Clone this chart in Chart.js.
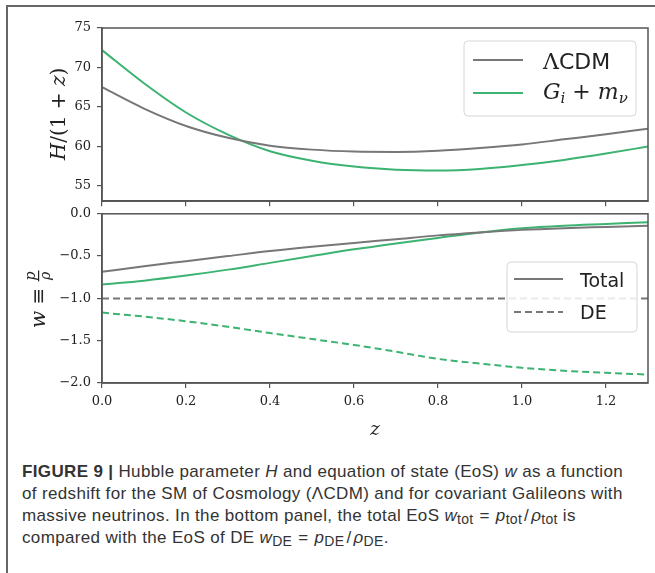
<!DOCTYPE html>
<html>
<head>
<meta charset="utf-8">
<script src="https://cdn.jsdelivr.net/npm/chart.js@4.4.0/dist/chart.umd.min.js"></script>
<style>
  body { margin: 0; background: #fff; width: 655px; height: 573px; position: relative; overflow: hidden; }
  #frame { position: absolute; left: 6px; top: 5px; width: 700px; height: 600px; border-top: 2px solid #666; border-left: 2px solid #666; }
  #top { position: absolute; left: 0; top: 0; }
  #bot { position: absolute; left: 0; top: 200px; }
  #cap { position: absolute; left: 22px; top: 461px; font: 17px 'Liberation Sans', Arial, sans-serif; letter-spacing: 0.35px; color: #333; line-height: 22px; white-space: nowrap; }
  #cap sub { font-size: 14px; letter-spacing: 0.3px; vertical-align: -3px; line-height: 0; }
  #cap .eq { padding: 0 6px; }
  #cap .sl { padding: 0 2px; }
</style>
</head>
<body>
<div id="frame"></div>
<canvas id="top" width="655" height="215"></canvas>
<canvas id="bot" width="655" height="250"></canvas>
<div id="cap">
  <div><b>FIGURE 9 |</b> Hubble parameter <i>H</i> and equation of state (EoS) <i>w</i> as a function</div>
  <div>of redshift for the SM of Cosmology (ΛCDM) and for covariant Galileons with</div>
  <div>massive neutrinos. In the bottom panel, the total EoS <i>w</i><sub>tot</sub><span class="eq">=</span><i>p</i><sub>tot</sub><span class="sl">/</span><i>ρ</i><sub>tot</sub> is</div>
  <div>compared with the EoS of DE <i>w</i><sub>DE</sub><span class="eq">=</span><i>p</i><sub>DE</sub><span class="sl">/</span><i>ρ</i><sub>DE</sub>.</div>
</div>
<script>
// redshift samples and values
const zVals = [0, 0.1, 0.2, 0.3, 0.4, 0.5, 0.6, 0.7, 0.8, 0.9, 1.0, 1.1, 1.2, 1.3];
const hLcdm = [67.5, 64.8, 62.6, 61.1, 60.1, 59.6, 59.35, 59.3, 59.45, 59.8, 60.25, 60.9, 61.55, 62.25];
const hGal  = [72.2, 68.0, 64.3, 61.5, 59.4, 58.2, 57.45, 57.05, 56.95, 57.15, 57.65, 58.3, 59.1, 60.0];
const wTotLcdm = [-0.686, -0.62, -0.56, -0.50, -0.44, -0.39, -0.345, -0.30, -0.255, -0.22, -0.19, -0.17, -0.155, -0.14];
const wTotGal  = [-0.836, -0.79, -0.73, -0.66, -0.58, -0.50, -0.42, -0.35, -0.285, -0.22, -0.17, -0.14, -0.12, -0.10];
const wDeLcdm  = [-1, -1, -1, -1, -1, -1, -1, -1, -1, -1, -1, -1, -1, -1];
const wDeGal   = [-1.168, -1.215, -1.27, -1.335, -1.41, -1.48, -1.55, -1.63, -1.715, -1.77, -1.82, -1.855, -1.88, -1.90];

const zTicks = [0, 0.2, 0.4, 0.6, 0.8, 1.0, 1.2];
const hTicks = [55, 60, 65, 70, 75];
const wTicks = [-2, -1.5, -1, -0.5, 0];

const GRAY = '#777777';
const GREEN = '#3cb371';
const AXIS = '#555555';
const SERIF = "'DejaVu Serif', serif";
const SANS = "'DejaVu Sans', sans-serif";

const pts = ys => zVals.map((z, i) => ({ x: z, y: ys[i] }));
const fmt = v => (v < 0 ? '\u2212' : '') + Math.abs(v).toFixed(1);

function line(label, ys, color, dashed) {
  return {
    label: label,
    data: pts(ys),
    borderColor: color,
    borderWidth: 2,
    borderDash: dashed ? [7, 4] : [],
    pointRadius: 0,
    cubicInterpolationMode: 'monotone',
    fill: false
  };
}

// draw a run of text pieces with different fonts, left to right
function runs(ctx, parts, x, y) {
  for (const p of parts) {
    ctx.font = p.f;
    ctx.fillText(p.t, x, y + (p.dy || 0));
    x += ctx.measureText(p.t).width;
  }
  return x;
}
function runsWidth(ctx, parts) {
  let w = 0;
  for (const p of parts) { ctx.font = p.f; w += ctx.measureText(p.t).width; }
  return w;
}

function legendBox(ctx, x, y, w, h) {
  ctx.save();
  ctx.beginPath();
  ctx.roundRect(x, y, w, h, 4);
  ctx.fillStyle = 'rgba(255,255,255,0.85)';
  ctx.fill();
  ctx.strokeStyle = '#d6d6d6';
  ctx.lineWidth = 1;
  ctx.stroke();
  ctx.restore();
}
function legendLine(ctx, x1, x2, y, color, dash) {
  ctx.save();
  ctx.strokeStyle = color;
  ctx.lineWidth = 2;
  ctx.setLineDash(dash || []);
  ctx.beginPath();
  ctx.moveTo(x1, y);
  ctx.lineTo(x2, y);
  ctx.stroke();
  ctx.restore();
}

const framePlugin = {
  id: 'frame',
  afterDatasetsDraw(chart) {
    const a = chart.chartArea, ctx = chart.ctx;
    ctx.save();
    ctx.strokeStyle = AXIS;
    ctx.lineWidth = 1.5;
    ctx.strokeRect(a.left, a.top, a.right - a.left, a.bottom - a.top);
    ctx.restore();
  }
};

function axisOpts(extra) {
  return Object.assign({
    type: 'linear',
    grid: { drawOnChartArea: false, tickLength: 5, color: AXIS, lineWidth: 1.2 },
    border: { display: true, color: AXIS, width: 1.5 },
    ticks: { font: { family: SERIF, size: 13 }, color: '#222', padding: 6 }
  }, extra);
}

// ---------- top panel: H/(1+z) ----------
const topLegend = {
  id: 'topLegend',
  afterDraw(chart) {
    const ctx = chart.ctx;
    legendBox(ctx, 464, 41, 172, 75);
    legendLine(ctx, 473, 523, 60, GRAY);
    legendLine(ctx, 473, 523, 93, GREEN);
    ctx.save();
    ctx.fillStyle = '#222';
    ctx.textBaseline = 'alphabetic';
    runs(ctx, [{ t: 'Λ', f: '22px ' + SERIF }, { t: 'CDM', f: '22px ' + SANS }], 543, 69);
    runs(ctx, [
      { t: 'G', f: 'italic 22px ' + SERIF },
      { t: 'i', f: 'italic 15px ' + SERIF, dy: 4 },
      { t: ' + ', f: '22px ' + SERIF },
      { t: 'm', f: 'italic 22px ' + SERIF },
      { t: 'ν', f: 'italic 15px ' + SERIF, dy: 4 }
    ], 543, 99);
    // y-axis title H/(1+z)
    const parts = [
      { t: 'H', f: 'italic 20px ' + SERIF },
      { t: '/(1 + ', f: '20px ' + SERIF },
      { t: 'z', f: 'italic 20px ' + SERIF },
      { t: ')', f: '20px ' + SERIF }
    ];
    ctx.translate(65, 114);
    ctx.rotate(-Math.PI / 2);
    runs(ctx, parts, -runsWidth(ctx, parts) / 2, 0);
    ctx.restore();
  }
};

new Chart(document.getElementById('top'), {
  type: 'line',
  data: {
    datasets: [
      line('ΛCDM', hLcdm, GRAY),
      line('Gi + mν', hGal, GREEN)
    ]
  },
  options: {
    responsive: false,
    animation: false,
    layout: { padding: { top: 28, right: 7, left: 0, bottom: 0 } },
    plugins: { legend: { display: false }, tooltip: { enabled: false } },
    scales: {
      x: axisOpts({
        min: 0, max: 1.3,
        afterBuildTicks: s => { s.ticks = zTicks.map(v => ({ value: v })); },
        afterFit: s => { s.height = 13; },
        ticks: { display: false }
      }),
      y: axisOpts({
        min: 53.07, max: 75,
        afterBuildTicks: s => { s.ticks = hTicks.map(v => ({ value: v })); },
        afterFit: s => { s.width = 102; },
        ticks: { font: { family: SERIF, size: 13 }, color: '#222', padding: 6, callback: v => String(v) }
      })
    }
  },
  plugins: [framePlugin, topLegend]
});

// ---------- bottom panel: w = p/rho ----------
const botLegend = {
  id: 'botLegend',
  afterDraw(chart) {
    const ctx = chart.ctx;
    legendBox(ctx, 507, 62, 130, 70);
    legendLine(ctx, 514, 563, 79, GRAY);
    legendLine(ctx, 514, 563, 112, GRAY, [7, 4]);
    ctx.save();
    ctx.fillStyle = '#222';
    ctx.font = '19px ' + SANS;
    ctx.fillText('Total', 580, 87);
    ctx.fillText('DE', 580, 119);
    // y-axis title w = p/rho
    ctx.translate(45, 100);
    ctx.rotate(-Math.PI / 2);
    const main = [{ t: 'w', f: 'italic 20px ' + SERIF }, { t: ' ≡ ', f: '20px ' + SERIF }];
    let x = runs(ctx, main, -28, 0);
    ctx.font = 'italic 14px ' + SERIF;
    const fw = Math.max(ctx.measureText('p').width, ctx.measureText('ρ').width) + 2;
    ctx.textAlign = 'center';
    ctx.fillText('p', x + fw / 2, -10);
    ctx.fillText('ρ', x + fw / 2, 5);
    ctx.fillRect(x, -7, fw, 1.2);
    ctx.restore();
  }
};

new Chart(document.getElementById('bot'), {
  type: 'line',
  data: {
    datasets: [
      line('Total ΛCDM', wTotLcdm, GRAY),
      line('DE ΛCDM', wDeLcdm, GRAY, true),
      line('Total Gi + mν', wTotGal, GREEN),
      line('DE Gi + mν', wDeGal, GREEN, true)
    ]
  },
  options: {
    responsive: false,
    animation: false,
    layout: { padding: { top: 10, right: 7, left: 0, bottom: 0 } },
    plugins: { legend: { display: false }, tooltip: { enabled: false } },
    scales: {
      x: axisOpts({
        min: 0, max: 1.3,
        afterBuildTicks: s => { s.ticks = zTicks.map(v => ({ value: v })); },
        afterFit: s => { s.height = 67; },
        ticks: { font: { family: SERIF, size: 13 }, color: '#222', padding: 6, maxRotation: 0, callback: v => v.toFixed(1) },
        title: { display: true, text: 'z', font: { family: 'DejaVu Serif', size: 18, style: 'italic' }, color: '#222', padding: { top: 0, bottom: 9 } }
      }),
      y: axisOpts({
        min: -2, max: 0,
        afterBuildTicks: s => { s.ticks = wTicks.map(v => ({ value: v })); },
        afterFit: s => { s.width = 102; },
        ticks: { font: { family: SERIF, size: 13 }, color: '#222', padding: 6, callback: v => fmt(v) }
      })
    }
  },
  plugins: [framePlugin, botLegend]
});
</script>
</body>
</html>
